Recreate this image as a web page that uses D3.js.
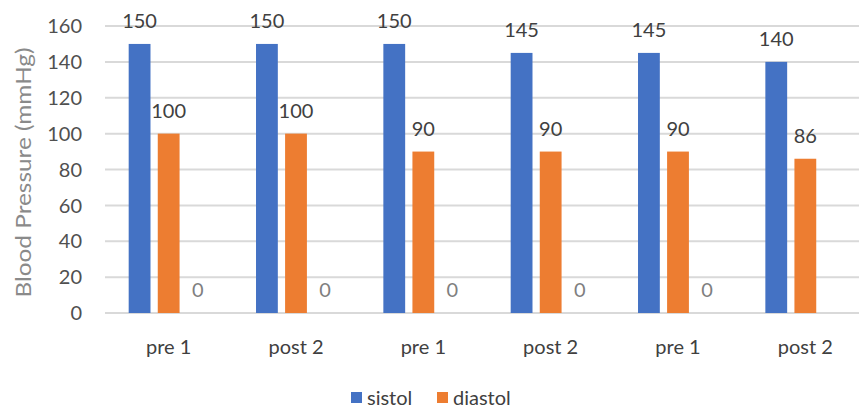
<!DOCTYPE html>
<html><head><meta charset="utf-8">
<script src="https://cdn.jsdelivr.net/npm/d3@7"></script>
<style>body{margin:0;background:#fff}svg{display:block}</style>
</head><body>
<svg id="c" width="859" height="409"></svg>
<script>
const categories = ["pre 1","post 2","pre 1","post 2","pre 1","post 2"];
const sistol = [150,150,150,145,145,140];
const diastol = [100,100,90,90,90,86];
const third = [0,0,0,0,0,null];
const yTicks = [0,20,40,60,80,100,120,140,160];
const seriesNames = ["sistol","diastol","third"];
const colors = {sistol:"#4472C4", diastol:"#ED7D31", third:"#A5A5A5"};

const svg = d3.select("#c");
const font = "Lato, 'Open Sans', sans-serif";
const pLeft = 105, pRight = 869, pTop = 26, pBottom = 313;

const x0 = d3.scaleBand().domain(d3.range(categories.length)).range([pLeft, pRight]).paddingInner(0.372).paddingOuter(0.186);
const x1 = d3.scaleBand().domain(seriesNames).range([0, x0.bandwidth()]).paddingInner(0.25);
const y = d3.scaleLinear().domain([0,160]).range([pBottom, pTop]);

// gridlines
svg.append("g").selectAll("line").data(yTicks).join("line")
  .attr("x1", pLeft).attr("x2", 859).attr("y1", d=>y(d)).attr("y2", d=>y(d))
  .attr("stroke", "#d9d9d9").attr("stroke-width", 2);

// y tick labels
svg.append("g").selectAll("text").data(yTicks).join("text")
  .attr("x", 82).attr("y", d=>y(d)).attr("dy","0.36em").attr("text-anchor","end")
  .attr("font-family", font).attr("font-size", 20).attr("fill","#505050").text(d=>d);

// y title
svg.append("text").attr("transform", `translate(31,${(pTop+pBottom)/2+3}) rotate(-90)`)
  .attr("text-anchor","middle").attr("font-family", font).attr("font-size", 21)
  .attr("textLength", 250).attr("lengthAdjust","spacingAndGlyphs")
  .attr("fill","#8a8a8a").text("Blood Pressure (mmHg)");

const data = {sistol, diastol, third};
seriesNames.forEach(s => {
  const vals = data[s];
  const g = svg.append("g");
  g.selectAll("rect").data(vals.map((v,i)=>({v,i})).filter(d=>d.v!==null && d.v>0)).join("rect")
    .attr("x", d=>x0(d.i)+x1(s)).attr("width", x1.bandwidth())
    .attr("y", d=>y(d.v)).attr("height", d=>y(0)-y(d.v)).attr("fill", colors[s]);
  g.selectAll("text").data(vals.map((v,i)=>({v,i})).filter(d=>d.v!==null)).join("text")
    .attr("x", d=>x0(d.i)+x1(s)+x1.bandwidth()/2).attr("y", d=>y(d.v)-16)
    .attr("text-anchor","middle").attr("font-family", font).attr("font-size", 20)
    .attr("fill", s==="third" ? "#7f7f7f" : "#404040").text(d=>d.v);
});

// x labels
svg.append("g").selectAll("text").data(categories).join("text")
  .attr("x", (d,i)=>x0(i)+x0.bandwidth()/2).attr("y", 354)
  .attr("text-anchor","middle").attr("font-family", font).attr("font-size", 20)
  .attr("fill","#404040").text(d=>d);

// legend
const legend = [{name:"sistol", x:351},{name:"diastol", x:437}];
const lg = svg.append("g");
legend.forEach(l => {
  lg.append("rect").attr("x", l.x).attr("y", 392).attr("width", 11).attr("height", 11).attr("fill", colors[l.name]);
  lg.append("text").attr("x", l.x+16).attr("y", 405).attr("font-family", font).attr("font-size", 20)
    .attr("fill","#404040").text(l.name);
});
</script>
</body></html>
